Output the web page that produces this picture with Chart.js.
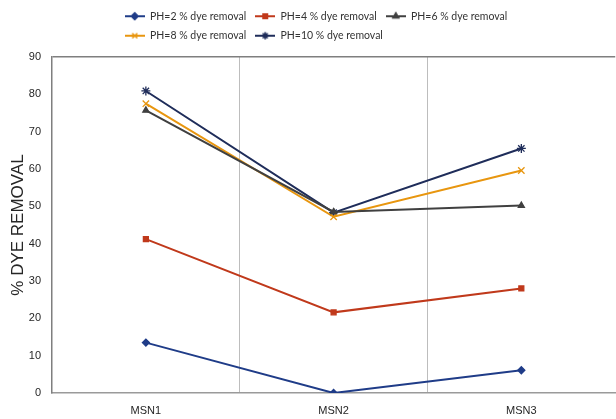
<!DOCTYPE html>
<html>
<head>
<meta charset="utf-8">
<script src="https://cdn.jsdelivr.net/npm/chart.js@4/dist/chart.umd.min.js"></script>
<style>
  html, body { margin: 0; padding: 0; background: #ffffff; overflow: hidden; }
  #chart { display: block; }
</style>
</head>
<body>
<canvas id="chart" width="621" height="419"></canvas>
<script>
// Samples and percentage of dye removed at each pH
const categories = ['MSN1', 'MSN2', 'MSN3'];
const ph2  = [13.5, 0.0, 6.1];
const ph4  = [41.2, 21.6, 28.0];
const ph6  = [75.7, 48.5, 50.2];
const ph8  = [77.5, 47.2, 59.6];
const ph10 = [80.9, 48.3, 65.5];
const seriesNames = ['PH=2 % dye removal', 'PH=4 % dye removal', 'PH=6 % dye removal',
                     'PH=8 % dye removal', 'PH=10 % dye removal'];
const yTicks = [0, 10, 20, 30, 40, 50, 60, 70, 80, 90];

const colors  = ['#1f3c88', '#c0391b', '#404040', '#e8960f', '#1f2d5a'];
const markers = ['rectRot', 'rect', 'triangle', 'crossRot', 'star'];
const values  = [ph2, ph4, ph6, ph8, ph10];
const ITEMS_PER_ROW = 3;
const LEGEND_GAP = 6;   // extra space between legend and plot

// Legend icon: short line with the series marker in the middle
function legendIcon(color, style) {
  const c = document.createElement('canvas');
  c.width = 20; c.height = 10;
  const g = c.getContext('2d');
  g.strokeStyle = color; g.lineWidth = 2;
  g.beginPath(); g.moveTo(0, 5); g.lineTo(20, 5); g.stroke();
  g.fillStyle = color; g.lineWidth = 1.2;
  Chart.helpers.drawPoint(g, { pointStyle: style, radius: 3.4, rotation: 0, borderWidth: 1.2 }, 10, 5);
  g.fill(); g.stroke();
  return c;
}

const datasets = values.map((v, i) => ({
  label: seriesNames[i],
  data: v,
  borderColor: colors[i],
  backgroundColor: colors[i],
  borderWidth: 2,
  pointStyle: markers[i],
  pointRadius: (markers[i] === 'crossRot' || markers[i] === 'star') ? 4.5 : 3.5,
  pointBorderWidth: 1.3,
  pointHoverRadius: 4,
  tension: 0,
  fill: false
}));

// Legend rows share one left edge; a little gap is kept below the legend
const legendLayout = {
  id: 'legendLayout',
  beforeLayout(chart) {
    const lg = chart.legend;
    if (lg && !lg._gapPatched) {
      const fit = lg.fit;
      lg.fit = function () { fit.call(this); this.height += LEGEND_GAP; };
      lg._gapPatched = true;
    }
  },
  afterUpdate(chart) {
    const lg = chart.legend;
    if (!lg || !lg.legendHitBoxes || !lg.legendHitBoxes.length) return;
    const pad = lg.options.labels.padding;
    const boxes = lg.legendHitBoxes.slice(0, ITEMS_PER_ROW);
    const w = boxes.reduce((s, b) => s + b.width, 0) + pad * (boxes.length - 1);
    lg.lineWidths = lg.lineWidths.map(() => w);
  }
};

new Chart(document.getElementById('chart'), {
  type: 'line',
  data: { labels: categories, datasets },
  plugins: [legendLayout],
  options: {
    responsive: false,
    animation: false,
    layout: { padding: { left: 4, right: 2, top: 2, bottom: 2 } },
    plugins: {
      tooltip: { enabled: false },
      legend: {
        position: 'top',
        align: 'center',
        labels: {
          usePointStyle: true,
          pointStyleWidth: 20,
          boxHeight: 10,
          padding: 9,
          color: '#333333',
          font: { family: 'Lato', size: 10.5 },
          generateLabels(chart) {
            return chart.data.datasets.map((d, i) => ({
              text: d.label,
              pointStyle: legendIcon(colors[i], markers[i]),
              fillStyle: colors[i],
              strokeStyle: colors[i],
              lineWidth: 0,
              hidden: false,
              datasetIndex: i,
              fontColor: '#333333'
            }));
          }
        }
      }
    },
    scales: {
      x: {
        type: 'category',
        offset: true,
        afterFit(scale) { scale.height = 24; },
        grid: {
          offset: true,
          drawTicks: false,
          lineWidth: 1,
          color: (ctx) => (ctx.index === 1 || ctx.index === 2) ? '#bdbdbd' : 'rgba(0,0,0,0)'
        },
        border: { color: '#9a9a9a', width: 1.5 },
        ticks: { color: '#262626', padding: 11, font: { family: 'Liberation Sans', size: 11 } }
      },
      y: {
        min: 0,
        max: 90,
        afterBuildTicks(scale) { scale.ticks = yTicks.map(v => ({ value: v })); },
        afterFit(scale) { scale.width = 48; },
        grid: {
          drawTicks: false,
          lineWidth: 1.5,
          color: (ctx) => (ctx.tick && ctx.tick.value === 90) ? '#7f7f7f' : 'rgba(0,0,0,0)'
        },
        border: { color: '#7f7f7f', width: 1.5 },
        ticks: { color: '#262626', padding: 11, font: { family: 'Liberation Sans', size: 11 } },
        title: {
          display: true,
          text: '% DYE REMOVAL',
          color: '#262626',
          padding: { top: 4, bottom: 0 },
          font: { family: 'Liberation Sans', size: 17 }
        }
      }
    }
  }
});
</script>
</body>
</html>
